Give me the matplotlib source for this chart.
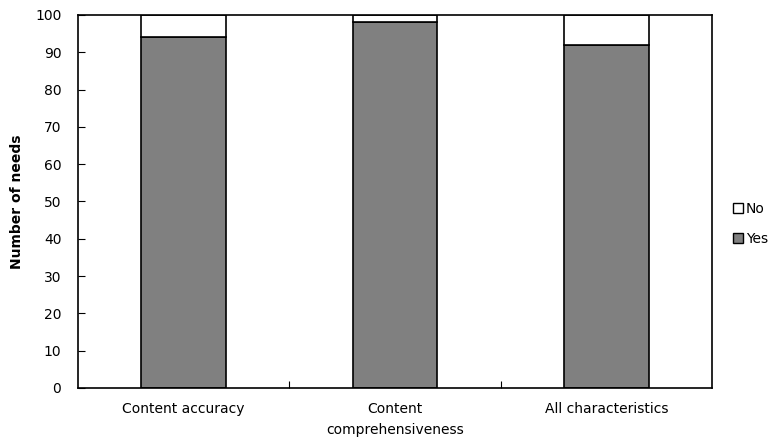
import matplotlib.pyplot as plt
from matplotlib.patches import Patch

categories = ["Content accuracy", "Content\ncomprehensiveness", "All characteristics"]
yes_counts = [94, 98, 92]
no_counts = [6, 2, 8]

plt.rcParams["font.family"] = ["DejaVu Sans"]

fig = plt.figure(figsize=(7.77, 4.41), dpi=100)
ax = fig.add_axes([0.1004, 0.1202, 0.8159, 0.8458])

x = range(len(categories))
ax.bar(x, yes_counts, width=0.4, color="#808080", edgecolor="black", linewidth=1.2)
ax.bar(x, no_counts, width=0.4, bottom=yes_counts, color="white",
       edgecolor="black", linewidth=1.2)

ax.set_xlim(-0.5, 2.5)
ax.set_ylim(0, 100)
ax.set_yticks(range(0, 101, 10))
ax.tick_params(axis="y", direction="in", length=5, labelsize=10, pad=12)

# category labels centred, tick marks only between categories
ax.set_xticks([0.5, 1.5])
ax.set_xticklabels([])
ax.tick_params(axis="x", direction="in", length=5)
for i, name in enumerate(categories):
    ax.text(i, -3.8, name, ha="center", va="top", fontsize=10,
            linespacing=1.65, transform=ax.transData)

for side in ax.spines.values():
    side.set_linewidth(1.2)

ax.set_ylabel("Number of needs", fontsize=10, fontweight="bold", labelpad=8)

handles = [Patch(facecolor="white", edgecolor="black", label="No"),
           Patch(facecolor="#808080", edgecolor="black", label="Yes")]
fig.legend(handles=handles, loc="center left", bbox_to_anchor=(0.935, 0.492),
           frameon=False, fontsize=10, handlelength=0.7, handleheight=0.7,
           handletextpad=0.2, labelspacing=1.15, borderpad=0)

fig.savefig("out.png", dpi=100)
